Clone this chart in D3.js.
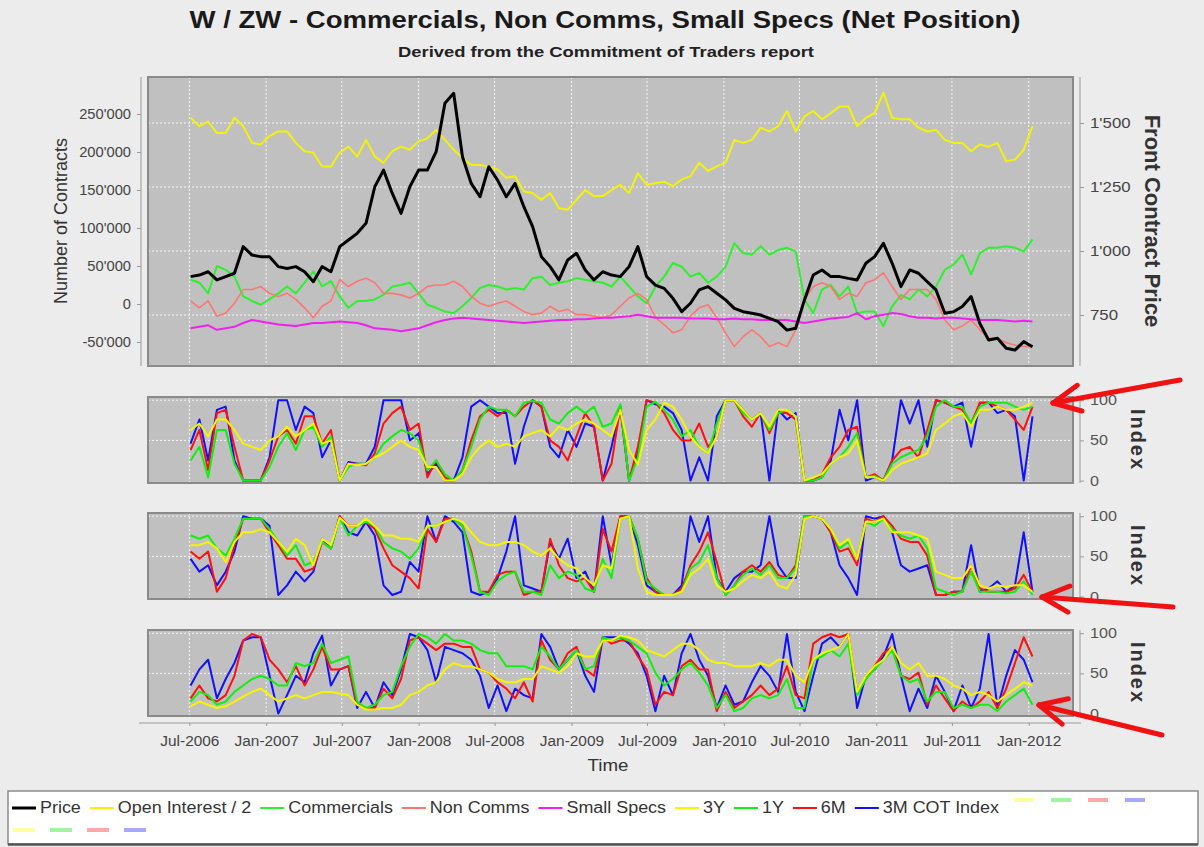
<!DOCTYPE html>
<html><head><meta charset="utf-8">
<script src="https://cdn.jsdelivr.net/npm/d3@7"></script>
<style>body{margin:0;background:#ececec;}svg{display:block;font-family:"Liberation Sans",Arial,sans-serif;}</style>
</head><body><svg id="c" width="1204" height="847"></svg>
<script>
// ---------------- DATA ----------------
const startDate = "2006-07-04";   // first weekly COT sample shown
const stepDays = 21;              // sampled every 3 weeks
const price = [900,906,919,887,900,913,1017,984,978,978,939,932,939,919,880,939,919,1017,1043,1069,1108,1251,1316,1225,1147,1251,1316,1316,1388,1577,1616,1368,1264,1212,1329,1277,1212,1264,1173,1095,978,939,887,965,991,926,887,
919,906,900,939,1017,900,867,854,815,763,796,848,861,835,809,776,763,757,750,737,724,691,698,809,906,926,900,900,893,887,952,978,1030,952,861,926,913,880,848,757,763,783,822,717,652,659,620,613,646,626];
// contracts, in thousands
const openInterestHalfK = [245,234,240,225,225,245,234,212,210,221,227,227,212,201,199,181,181,199,207,194,216,194,186,201,207,203,214,218,229,216,203,192,183,183,181,177,166,168,148,146,137,146,126,124,137,150,142,
142,150,157,146,172,157,159,161,155,164,168,186,175,181,186,216,212,216,232,227,234,254,227,247,254,243,251,260,260,234,245,251,278,245,243,243,232,227,229,216,212,212,201,210,207,212,188,190,203,234];
const commercialsK = [32,28,14,50,45,36,10,4,-1,6,14,23,14,28,43,23,30,10,-5,4,4,6,12,23,25,28,14,-1,-5,-10,-12,-3,8,21,25,23,19,21,19,34,36,25,28,30,34,32,30,
28,23,36,23,10,1,23,36,54,49,36,41,28,36,49,80,67,65,76,65,71,74,69,6,-12,19,25,10,23,-12,-10,-10,-29,-3,12,6,19,10,23,45,52,65,39,67,74,74,76,74,69,85];
const nonCommsK = [4,-5,4,-16,-12,1,19,19,23,14,10,14,6,-5,-18,-3,4,32,23,30,34,28,14,14,12,8,14,23,25,25,30,23,10,1,-3,1,4,-3,-10,-14,-12,-3,-10,-7,-14,-14,-16,
-18,-14,-3,8,14,6,-18,-27,-38,-34,-16,-5,-1,-18,-38,-56,-43,-34,-43,-56,-51,-56,-34,6,23,28,23,6,14,10,28,32,41,23,6,19,19,19,6,-21,-34,-29,-21,-34,-45,-45,-51,-54,-56,-56];
const smallSpecsK = [-32,-30,-28,-34,-32,-30,-25,-21,-23,-25,-27,-28,-29,-27,-25,-25,-24,-23,-24,-25,-28,-32,-33,-34,-36,-34,-32,-28,-24,-21,-19,-18,-19,-20,-21,-22,-23,-24,-25,-24,-23,-22,-21,-21,-20,-20,-19,
-18,-18,-17,-16,-14,-16,-18,-18,-18,-18,-19,-19,-19,-20,-20,-19,-20,-20,-21,-21,-21,-21,-23,-25,-23,-21,-19,-18,-17,-12,-20,-16,-14,-12,-13,-16,-18,-18,-19,-18,-18,-19,-20,-21,-21,-21,-22,-23,-22,-23];

// COT index (0-100) – Commercials
const commIdx3Y = [63,71,55,76,76,63,46,42,38,50,55,67,55,63,71,46,50,0,21,19,21,29,34,42,50,42,38,17,17,0,0,8,29,42,50,42,46,42,55,59,63,55,67,63,71,76,71,63,55,88,38,20,63,76,97,92,76,55,42,34,55,100,100,88,76,84,67,88,88,80,0,4,8,21,29,34,50,4,4,0,13,21,25,29,34,63,71,80,84,67,88,88,92,88,88,92,97];
const commIdx1Y = [25,42,4,63,63,21,0,0,0,17,42,59,38,63,67,42,55,0,17,21,21,29,46,55,63,59,50,13,25,8,0,13,42,76,92,88,88,80,97,99,97,76,71,84,92,84,92,67,71,95,0,29,92,98,88,76,55,63,42,34,71,100,100,84,76,84,63,84,88,80,0,0,4,21,29,42,59,4,6,0,21,29,34,38,55,92,100,92,92,71,92,97,97,97,92,88,92];
const commIdx6M = [38,63,13,84,88,42,0,0,0,25,55,63,46,80,80,46,63,0,21,21,19,34,71,84,92,63,71,4,25,4,0,13,50,80,88,80,88,80,92,100,92,50,42,25,55,84,67,0,21,92,0,42,100,97,84,63,50,50,71,42,55,100,100,80,67,84,59,84,84,76,0,0,8,29,42,63,67,4,8,0,25,38,42,29,63,100,97,92,88,71,97,97,92,88,76,63,92];
const commIdx3M = [46,76,25,88,92,25,0,0,0,29,100,100,63,92,84,29,50,0,23,21,21,42,100,100,100,50,59,8,21,0,0,29,92,100,92,84,84,21,67,100,92,42,29,63,42,71,67,0,42,92,0,34,100,95,92,84,63,0,29,0,80,100,100,88,76,84,0,88,76,84,0,0,4,25,88,50,100,0,4,0,25,100,71,100,42,100,97,92,97,42,97,97,84,88,80,0,80];
// COT index – Non Comms
const nonCommIdx3Y = [64,64,68,60,43,68,80,80,84,80,68,56,72,64,39,72,64,98,88,88,97,88,76,76,72,72,68,88,88,93,97,93,80,68,64,64,68,68,64,56,51,60,47,39,35,23,14,39,35,97,100,35,6,2,2,2,6,27,35,47,14,6,10,19,27,23,31,14,10,27,97,100,97,84,64,72,47,93,93,97,80,80,80,76,72,31,27,23,23,39,14,10,14,12,14,14,6];
const nonCommIdx1Y = [76,72,76,60,51,72,97,97,97,84,68,51,64,39,43,68,60,98,76,88,93,88,68,60,56,47,60,88,88,93,97,88,51,6,2,19,27,31,6,6,2,39,23,31,27,10,6,47,23,97,100,72,19,10,2,2,6,35,43,64,23,2,14,27,35,27,39,23,23,35,100,100,97,84,60,68,47,93,88,97,84,76,72,76,60,10,6,2,6,31,6,6,6,4,6,19,2];
const nonCommIdx6M = [56,47,56,6,23,64,97,97,97,80,64,47,47,31,35,68,60,100,88,88,93,84,60,39,31,23,10,84,68,97,97,88,56,6,6,27,31,31,2,6,6,72,39,23,19,23,6,84,56,100,100,72,23,6,2,2,10,39,56,80,43,2,14,31,39,31,43,27,23,39,100,100,97,80,56,60,39,97,93,100,88,72,68,68,51,2,2,6,6,39,10,6,6,6,10,27,6];
const nonCommIdx3M = [47,31,39,14,31,56,100,97,97,88,2,14,31,19,31,72,60,100,80,76,93,76,14,2,6,43,31,100,68,100,93,80,6,2,6,23,56,100,14,10,6,68,47,72,23,31,6,100,39,100,100,64,14,6,2,2,14,100,68,100,23,6,23,31,31,39,100,39,23,23,100,100,97,80,39,23,2,100,97,100,80,39,31,35,39,2,2,6,6,64,6,10,19,6,14,80,6];
// COT index – Small Specs
const smallIdx3Y = [9,15,11,7,9,15,21,27,31,23,15,19,23,19,23,27,27,25,23,11,5,5,7,7,11,23,27,35,39,55,63,59,59,55,51,43,39,39,43,43,59,55,51,59,75,71,71,91,91,97,95,91,79,75,71,79,87,87,79,67,63,63,59,59,59,63,59,67,67,47,39,67,75,79,83,99,27,47,59,67,83,63,55,63,47,47,43,35,31,23,27,23,15,23,31,39,35];
const smallIdx1Y = [15,27,23,11,15,27,35,43,47,43,35,35,63,59,63,87,63,67,71,15,7,11,23,27,59,83,99,95,87,99,91,91,87,79,75,75,59,59,59,55,83,71,55,67,79,55,59,95,91,95,91,83,75,51,35,43,55,63,51,35,7,23,3,7,19,23,19,23,43,7,7,67,71,79,71,87,23,43,55,67,79,47,39,43,15,27,27,7,11,7,11,11,3,15,23,31,11];
const smallIdx6M = [19,35,19,15,23,47,91,99,95,67,55,39,59,35,55,83,55,55,59,11,7,7,31,19,43,91,95,87,79,87,87,83,83,55,51,39,31,19,39,15,91,67,55,75,83,55,47,95,87,91,91,71,55,11,27,23,59,67,55,55,3,27,7,15,23,35,23,31,59,23,19,87,95,99,95,99,27,43,59,75,83,47,43,51,11,35,19,3,15,7,15,27,7,31,63,95,71];
const smallIdx3M = [35,55,67,19,43,63,91,95,95,47,0,23,47,39,75,97,35,55,59,7,27,7,39,23,55,99,95,79,39,83,79,75,67,47,7,35,3,31,23,19,99,83,55,67,79,47,27,95,95,95,87,75,47,3,47,23,75,99,67,47,7,35,11,15,39,59,47,27,99,27,3,47,87,95,83,99,7,47,55,71,99,47,3,31,7,47,27,3,35,7,31,99,7,47,79,67,39];

const leftTicks = [-50000,0,50000,100000,150000,200000,250000];
const rightTicks = [750,1000,1250,1500];
const indexTicks = [0,50,100];
const titleText = "W / ZW - Commercials, Non Comms, Small Specs (Net Position)";
const subtitleText = "Derived from the Commitment of Traders report";

// ---------------- SETUP ----------------
const svg = d3.select("#c");
const loc = d3.formatLocale({decimal:".",thousands:"'",grouping:[3],currency:["",""],minus:"-"});
const fmt = loc.format(",");
const start = d3.utcParse("%Y-%m-%d")(startDate);
const dates = d3.range(price.length).map(i => d3.utcDay.offset(start, i*stepDays));
const L = 148, R = 1073;
const x = d3.scaleUtc().domain([new Date(Date.UTC(2006,2,24)), new Date(Date.UTC(2012,3,16))]).range([L,R]);
const xTicks = d3.utcMonth.every(6).range(new Date(Date.UTC(2006,6,1)), new Date(Date.UTC(2012,1,1)));
function stretch(sel,k){sel.each(function(){const w=this.getComputedTextLength();this.setAttribute("textLength",w*k);this.setAttribute("lengthAdjust","spacingAndGlyphs");});}

svg.append("rect").attr("width",1204).attr("height",847).attr("fill","#ececec");

// title
const t1 = svg.append("text").attr("x",605).attr("y",28).attr("text-anchor","middle")
  .attr("font-size",23).attr("font-weight","bold").attr("fill","#1a1a1a").text(titleText);
t1.attr("textLength",831).attr("lengthAdjust","spacingAndGlyphs");
const t2 = svg.append("text").attr("x",606).attr("y",57).attr("text-anchor","middle")
  .attr("font-size",14).attr("font-weight","bold").attr("fill","#222").text(subtitleText);
t2.attr("textLength",416).attr("lengthAdjust","spacingAndGlyphs");

let clipN = 0;
function panel(py, h){
  const id = "clip"+(clipN++);
  svg.append("clipPath").attr("id",id).append("rect").attr("x",L).attr("y",py).attr("width",R-L).attr("height",h);
  svg.append("rect").attr("x",L).attr("y",py).attr("width",R-L).attr("height",h).attr("fill","#c0c0c0");
  const g = svg.append("g");
  g.selectAll("line.vg").data(xTicks).join("line")
    .attr("x1",d=>x(d)).attr("x2",d=>x(d)).attr("y1",py).attr("y2",py+h)
    .attr("stroke","#fff").attr("stroke-width",1).attr("stroke-dasharray","2,2").attr("opacity",0.85);
  const lines = svg.append("g").attr("clip-path",`url(#${id})`);
  return {g, lines, id};
}
function border(py,h){
  svg.append("rect").attr("x",L).attr("y",py).attr("width",R-L).attr("height",h)
    .attr("fill","none").attr("stroke","#8a8a8a").attr("stroke-width",2);
}
function hgrid(g, y, vals){
  g.selectAll("line.hg").data(vals).join("line")
    .attr("x1",L).attr("x2",R).attr("y1",d=>y(d)).attr("y2",d=>y(d))
    .attr("stroke","#fff").attr("stroke-width",1).attr("stroke-dasharray","2,2").attr("opacity",0.85);
}
function styleAxis(a, col){
  a.select(".domain").remove();
  a.selectAll(".tick line").attr("stroke","#999");
  a.selectAll(".tick text").attr("fill",col||"#444").attr("font-family",'"Liberation Sans",Arial,sans-serif');
}

// ---------------- TOP PANEL ----------------
const PT = 77, PB = 366;
const yL = d3.scaleLinear().domain([-81579, 298684]).range([PB,PT]);
const yR = d3.scaleLinear().domain([550.8, 1679.7]).range([PB,PT]);
const mainP = panel(PT, PB-PT);
hgrid(mainP.g, yR, rightTicks);
const lineK = arr => d3.line().x((d,i)=>x(dates[i])).y(d=>yL(d*1000))(arr);
const topSeries = [
  {data:openInterestHalfK, color:"#f2f20a", w:2},
  {data:commercialsK, color:"#2ef02e", w:2},
  {data:nonCommsK, color:"#ff7575", w:1.6},
  {data:smallSpecsK, color:"#f020f0", w:2}
];
topSeries.forEach(s => mainP.lines.append("path").attr("d",lineK(s.data)).attr("fill","none")
  .attr("stroke",s.color).attr("stroke-width",s.w).attr("stroke-linejoin","round"));
mainP.lines.append("path").attr("d", d3.line().x((d,i)=>x(dates[i])).y(d=>yR(d))(price))
  .attr("fill","none").attr("stroke","#000").attr("stroke-width",3).attr("stroke-linejoin","round");
border(PT, PB-PT);
svg.append("line").attr("x1",141).attr("x2",141).attr("y1",PT).attr("y2",PB).attr("stroke","#999");
svg.append("line").attr("x1",1080).attr("x2",1080).attr("y1",PT).attr("y2",PB).attr("stroke","#999");
const al = svg.append("g").attr("transform","translate(141,0)")
  .call(d3.axisLeft(yL).tickValues(leftTicks).tickFormat(fmt).tickSize(4).tickPadding(6));
styleAxis(al);
al.selectAll(".tick text").attr("font-size",14);
stretch(al.selectAll(".tick text"),1.05);
const ar = svg.append("g").attr("transform","translate(1080,0)")
  .call(d3.axisRight(yR).tickValues(rightTicks).tickFormat(fmt).tickSize(4).tickPadding(6));
styleAxis(ar);
ar.selectAll(".tick text").attr("font-size",14);
stretch(ar.selectAll(".tick text"),1.2);
svg.append("text").attr("transform","translate(61,221) rotate(-90)").attr("text-anchor","middle")
  .attr("dominant-baseline","central").attr("font-size",18).attr("fill","#333").text("Number of Contracts");
svg.append("text").attr("transform","translate(1152,221) rotate(90)").attr("text-anchor","middle")
  .attr("dominant-baseline","central").attr("font-size",22).attr("font-weight","bold").attr("fill","#333").text("Front Contract Price");

// ---------------- INDEX PANELS ----------------
const idxPanels = [
  {py:397, series:[commIdx3M, commIdx6M, commIdx1Y, commIdx3Y]},
  {py:513, series:[nonCommIdx3M, nonCommIdx6M, nonCommIdx1Y, nonCommIdx3Y]},
  {py:630, series:[smallIdx3M, smallIdx6M, smallIdx1Y, smallIdx3Y]}
];
const idxColors = ["#1010ff","#ff1010","#10f010","#f5f500"];
const PH = 86;
idxPanels.forEach(p => {
  const y = d3.scaleLinear().domain([-3,104]).range([p.py+PH, p.py]);
  const pn = panel(p.py, PH);
  hgrid(pn.g, y, [50,100]);
  p.series.forEach((s,k) => pn.lines.append("path")
    .attr("d", d3.line().x((d,i)=>x(dates[i])).y(d=>y(d))(s))
    .attr("fill","none").attr("stroke",idxColors[k]).attr("stroke-width",2).attr("stroke-linejoin","round"));
  border(p.py, PH);
  svg.append("line").attr("x1",1080).attr("x2",1080).attr("y1",p.py).attr("y2",p.py+PH).attr("stroke","#999");
  const a = svg.append("g").attr("transform","translate(1080,0)")
    .call(d3.axisRight(y).tickValues(indexTicks).tickSize(4).tickPadding(6));
  styleAxis(a,"#555");
  a.selectAll(".tick text").attr("font-size",14);
  stretch(a.selectAll(".tick text"),1.15);
  svg.append("text").attr("transform",`translate(1138,${p.py+PH/2}) rotate(90)`).attr("text-anchor","middle")
    .attr("dominant-baseline","central").attr("font-size",20).attr("font-weight","bold")
    .attr("letter-spacing",2).attr("fill","#333").text("Index");
});

// ---------------- X AXIS ----------------
svg.append("line").attr("x1",139).attr("x2",1081).attr("y1",723).attr("y2",723).attr("stroke","#999");
const ax = svg.append("g").attr("transform","translate(0,723)")
  .call(d3.axisBottom(x).tickValues(xTicks).tickFormat(d3.utcFormat("%b-%Y")).tickSize(3).tickPadding(10));
styleAxis(ax);
ax.selectAll(".tick text").attr("font-size",14);
stretch(ax.selectAll(".tick text"),1.1);
const tt = svg.append("text").attr("x",608).attr("y",771).attr("text-anchor","middle").attr("font-size",17).attr("fill","#333").text("Time");
stretch(tt,1.1);

// ---------------- LEGEND ----------------
svg.append("rect").attr("x",8).attr("y",791).attr("width",1190).attr("height",53)
  .attr("fill","#fff").attr("stroke","#8a8a8a").attr("stroke-width",1.5);
svg.append("line").attr("x1",8).attr("x2",1198).attr("y1",844.5).attr("y2",844.5).attr("stroke","#555").attr("stroke-width",2.5);
const legendItems = [
  {label:"Price", color:"#000", w:3},
  {label:"Open Interest / 2", color:"#f2f20a", w:2},
  {label:"Commercials", color:"#2ef02e", w:2},
  {label:"Non Comms", color:"#ff7575", w:2},
  {label:"Small Specs", color:"#f020f0", w:2},
  {label:"3Y", color:"#f5f500", w:2},
  {label:"1Y", color:"#10f010", w:2},
  {label:"6M", color:"#ff1010", w:2},
  {label:"3M COT Index", color:"#1010ff", w:2}
];
let lx = 12;
const lg = svg.append("g");
legendItems.forEach(it => {
  lg.append("line").attr("x1",lx).attr("x2",lx+24).attr("y1",808).attr("y2",808).attr("stroke",it.color).attr("stroke-width",it.w);
  const t = lg.append("text").attr("x",lx+28).attr("y",813).attr("font-size",16).attr("fill","#333").text(it.label);
  const w = t.node().getComputedTextLength()*1.12;
  t.attr("textLength",w).attr("lengthAdjust","spacingAndGlyphs");
  lx += 28 + w + 9;
});
const paleColors = ["#ffffa0","#a0f5a0","#ffa8a8","#a8a8ff"];
paleColors.forEach((c,k) => {
  lg.append("rect").attr("x",lx+6+k*37).attr("y",798).attr("width",20).attr("height",4).attr("fill",c);
  lg.append("rect").attr("x",13+k*37).attr("y",828).attr("width",22).attr("height",4).attr("fill",c);
});

// ---------------- ANNOTATION ARROWS ----------------
const arrows = [
  {tip:[1053,403], tail:[1180,380]},
  {tip:[1042,597], tail:[1173,607]},
  {tip:[1039,705], tail:[1162,735]}
];
const ag = svg.append("g").attr("stroke","#f01212").attr("stroke-width",5).attr("stroke-linecap","round").attr("fill","none");
arrows.forEach(a => {
  ag.append("line").attr("x1",a.tip[0]).attr("y1",a.tip[1]).attr("x2",a.tail[0]).attr("y2",a.tail[1]);
  const ang = Math.atan2(a.tail[1]-a.tip[1], a.tail[0]-a.tip[0]);
  [0.45,-0.45].forEach(da => {
    ag.append("line").attr("x1",a.tip[0]).attr("y1",a.tip[1])
      .attr("x2",a.tip[0]+30*Math.cos(ang+da)).attr("y2",a.tip[1]+30*Math.sin(ang+da));
  });
});
</script></body></html>
